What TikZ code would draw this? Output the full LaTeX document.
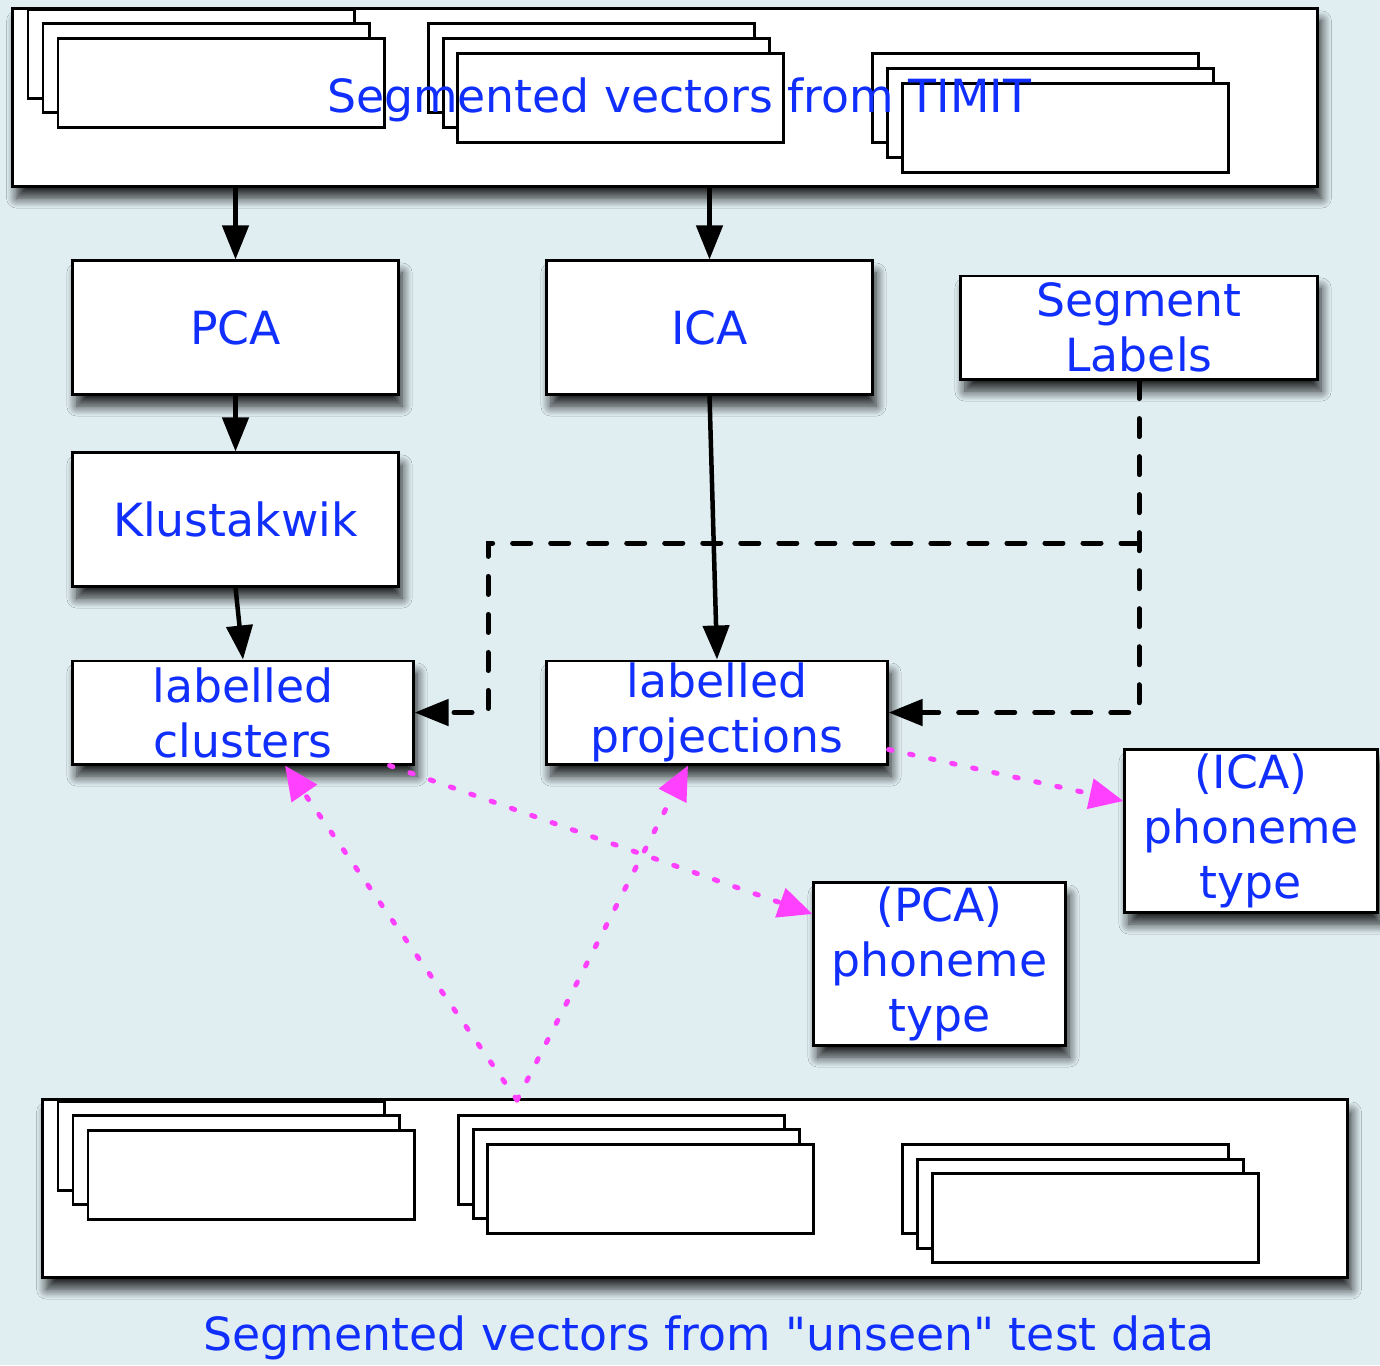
\documentclass[tikz,border=0pt]{standalone}
\usepackage{fontspec}
\setmainfont{DejaVu Sans}[Ligatures=TeXOff]
\usetikzlibrary{arrows.meta,shadows.blur}
\definecolor{panel}{RGB}{224,238,242}
\definecolor{textblue}{RGB}{16,46,252}
\definecolor{dotpink}{RGB}{255,64,255}
\tikzset{
  box/.style={draw=black, fill=white, line width=0.85pt, inner sep=0pt, align=center,
    text=textblue, font=\fontsize{13}{15.6}\selectfont,
    blur shadow={shadow xshift=0.4mm, shadow yshift=-1.2mm, shadow blur radius=1mm,
      shadow blur steps=10, shadow opacity=85}},
  sheet/.style={draw=black, fill=white, line width=0.85pt},
  caption/.style={text=textblue, font=\fontsize{13}{15.6}\selectfont, inner sep=0pt},
  flow/.style={line width=0.45mm, -{Triangle[length=3.4mm,width=2.6mm]}},
  labelflow/.style={flow, line width=0.5mm, dash pattern=on 1.8mm off 2mm, line cap=round},
  testflow/.style={dotpink, line width=0.5mm, dash pattern=on 0.35mm off 1.8mm, line cap=round,
    -{Triangle[length=3.4mm,width=3mm]}},
}

\begin{document}
\begin{tikzpicture}[x=0.01cm, y=-0.01cm]
\fill[panel] (0,0) rectangle (1380,1365);
\useasboundingbox (0,0) rectangle (1380,1365);

\node[box, minimum width=13.04cm, minimum height=1.77cm] (timit) at (665,97.5) {};
		\draw[sheet] (28,9) rectangle ++(326,89);
		\draw[sheet] (43,23) rectangle ++(326,89);
		\draw[sheet] (58,38) rectangle ++(326,89);
		\draw[sheet] (428,23) rectangle ++(326,89);
		\draw[sheet] (443,38) rectangle ++(326,89);
		\draw[sheet] (457,53) rectangle ++(326,89);
		\draw[sheet] (872,53) rectangle ++(326,89);
		\draw[sheet] (887,68) rectangle ++(326,89);
		\draw[sheet] (902,83) rectangle ++(326,89);
\node[caption] (timitlabel) at (679,100) {Segmented vectors from TIMIT};

\node[box, minimum width=3.25cm, minimum height=1.33cm] (pca) at (235.5,327.5) {PCA};
\node[box, minimum width=3.25cm, minimum height=1.33cm] (ica) at (709.5,327.5) {ICA};
\node[box, minimum width=3.56cm, minimum height=1.03cm] (seg) at (1139,327.5) {Segment\\Labels};
\node[box, minimum width=3.25cm, minimum height=1.33cm] (kwik) at (235.5,519.5) {Klustakwik};
\node[box, minimum width=3.40cm, minimum height=1.03cm] (clus) at (243,712.5) {labelled\\clusters};
\node[box, minimum width=3.40cm, minimum height=1.03cm] (proj) at (717,712.5) {labelled\\projections};
\node[box, minimum width=2.52cm, minimum height=1.62cm] (icaph) at (1251,831) {(ICA)\\phoneme\\type};
\node[box, minimum width=2.51cm, minimum height=1.62cm] (pcaph) at (939.5,964) {(PCA)\\phoneme\\type};

\node[box, minimum width=13.04cm, minimum height=1.77cm] (unseen) at (695,1188.5) {};
		\draw[sheet] (58,1101) rectangle ++(326,89);
		\draw[sheet] (73,1115) rectangle ++(326,89);
		\draw[sheet] (88,1130) rectangle ++(326,89);
		\draw[sheet] (458,1115) rectangle ++(326,89);
		\draw[sheet] (473,1129) rectangle ++(326,89);
		\draw[sheet] (487,1144) rectangle ++(326,89);
		\draw[sheet] (902,1144) rectangle ++(326,89);
		\draw[sheet] (917,1159) rectangle ++(326,89);
		\draw[sheet] (932,1173) rectangle ++(326,89);
\node[caption] (unseenlabel) at (709,1338) {Segmented vectors from "unseen" test data};

\draw[flow] (pca.north |- timit.south) -- (pca.north);
\draw[flow] (ica.north |- timit.south) -- (ica.north);
\draw[flow] (pca.south) -- (kwik.north);
\draw[flow] (kwik.south) -- (clus.north);
\draw[flow] (ica.south) -- (proj.north);

\coordinate (fork) at (1139,543);
\coordinate (bend) at (488,543);
\draw[labelflow] (seg.south) -- (seg.south |- proj.east) -- (proj.east);
\draw[labelflow] (fork) -- (bend) -- (bend |- clus.east) -- (clus.east);

\coordinate (src) at (517,1100);
\draw[testflow] ([xshift=-2.5mm]clus.south east) -- ([yshift=5mm]pcaph.west);
\draw[testflow] ([yshift=-3.7mm]proj.east) -- ([yshift=3mm]icaph.west);
\draw[testflow] (src) -- ([xshift=4.2mm]clus.south);
\draw[testflow] (src) -- ([xshift=-2.9mm]proj.south);
\end{tikzpicture}
\end{document}
